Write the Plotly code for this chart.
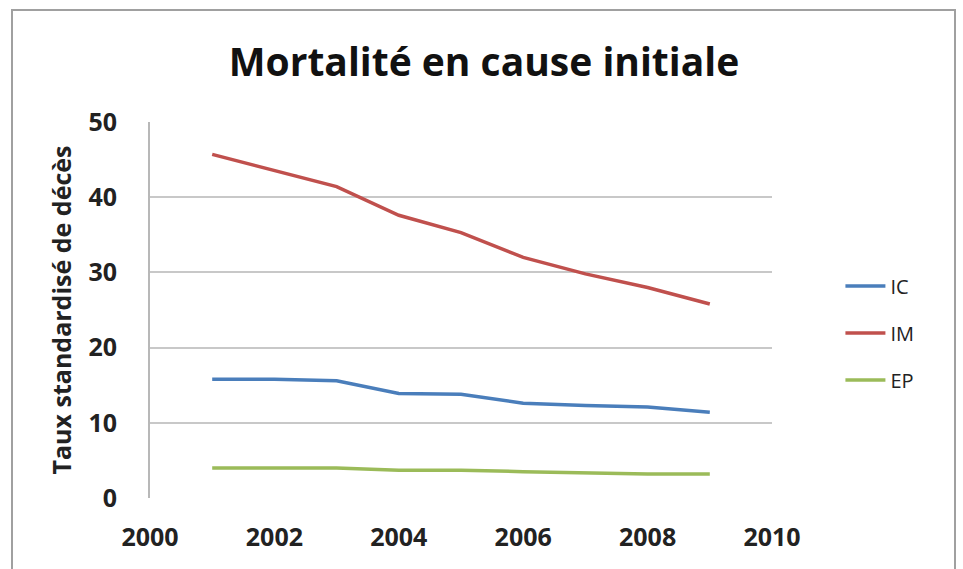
import plotly.graph_objects as go

years = [2001, 2002, 2003, 2004, 2005, 2006, 2007, 2008, 2009]
ic = [15.8, 15.8, 15.6, 13.9, 13.8, 12.6, 12.3, 12.1, 11.4]
im = [45.7, 43.6, 41.4, 37.6, 35.3, 32.0, 29.8, 28.0, 25.8]
ep = [4.0, 4.0, 4.0, 3.7, 3.7, 3.5, 3.3, 3.2, 3.2]
series_names = ["IC", "IM", "EP"]
colors = ["#4A7EBB", "#C0504D", "#9BBB59"]

fig = go.Figure()
for name, vals, col in zip(series_names, [ic, im, ep], colors):
    fig.add_trace(go.Scatter(x=years, y=vals, mode="lines", name=name,
                             legendgroup=name,
                             line=dict(color=col, width=3.5)))

font_family = "Open Sans, Noto Sans, DejaVu Sans"
tick_font = dict(size=25, family=font_family, color="#222222", weight="bold")
fig.update_layout(
    width=963, height=569,
    paper_bgcolor="white", plot_bgcolor="white",
    margin=dict(l=150, r=191, t=122, b=71),
    title=dict(text="<b>Mortalité en cause initiale</b>", x=484 / 963, xanchor="center",
               xref="container", y=0.89, yanchor="middle",
               font=dict(family=font_family, size=39, color="#111111")),
    font=dict(family=font_family, color="#222222"),
    xaxis=dict(range=[2000, 2010], tickvals=[2000, 2002, 2004, 2006, 2008, 2010],
               showgrid=False, showline=False, zeroline=False, ticks="",
               tickfont=tick_font, ticklabelstandoff=22),
    yaxis=dict(range=[0, 50], tickvals=[0, 10, 20, 30, 40, 50],
               showgrid=True, gridcolor="#C8C8C8", gridwidth=2,
               showline=True, linecolor="#B8B8B8", linewidth=2,
               zeroline=False, ticks="",
               tickfont=tick_font, ticklabelstandoff=26,
               title=dict(text="<b>Taux standardisé de décès</b>", standoff=10,
                          font=dict(size=25, family=font_family, color="#222222"))),
    legend=dict(x=1.11, y=0.439, xanchor="left", yanchor="middle",
                traceorder="grouped",
                font=dict(size=20, family=font_family, color="#222222"),
                tracegroupgap=18, itemwidth=40, bgcolor="rgba(0,0,0,0)"),
    shapes=[dict(type="rect", xref="paper", yref="paper",
                 x0=(12 - 150) / 622, x1=(955 - 150) / 622,
                 y0=-0.3, y1=(498 - 10) / 376,
                 line=dict(color="#A0A0A0", width=2), layer="below")],
)
fig.write_html("out.html")
